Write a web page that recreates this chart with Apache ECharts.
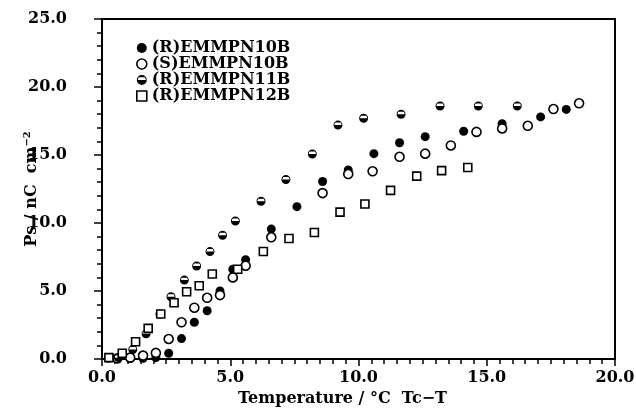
<!DOCTYPE html>
<html>
<head>
<meta charset="utf-8">
<script src="https://cdn.jsdelivr.net/npm/echarts@6/dist/echarts.min.js"></script>
<style>
  html, body { margin: 0; padding: 0; background: #fff; }
  #chart { width: 636px; height: 408px; }
</style>
</head>
<body>
<div id="chart"></div>
<script>
// ---- data ----
const seriesNames = ['(R)EMMPN10B', '(S)EMMPN10B', '(R)EMMPN11B', '(R)EMMPN12B'];

const r10bX = [0.6, 1.1, 1.6, 2.1, 2.6, 3.1, 3.6, 4.1, 4.6, 5.1, 5.6, 6.6, 7.6, 8.6, 9.6, 10.6, 11.6, 12.6, 14.1, 15.6, 17.1, 18.1];
const r10bY = [0.0, 0.05, 0.05, 0.1, 0.42, 1.5, 2.7, 3.55, 5.0, 6.6, 7.3, 9.55, 11.2, 13.05, 13.9, 15.1, 15.9, 16.35, 16.75, 17.3, 17.8, 18.35];

const s10bX = [0.6, 1.1, 1.6, 2.1, 2.6, 3.1, 3.6, 4.1, 4.6, 5.1, 5.6, 6.6, 8.6, 9.6, 10.55, 11.6, 12.6, 13.6, 14.6, 15.6, 16.6, 17.6, 18.6];
const s10bY = [0.05, 0.1, 0.25, 0.45, 1.47, 2.7, 3.77, 4.5, 4.7, 6.0, 6.86, 8.95, 12.2, 13.6, 13.8, 14.87, 15.1, 15.7, 16.7, 16.95, 17.15, 18.38, 18.8];

const r11bX = [0.25, 0.64, 1.2, 1.72, 2.26, 2.69, 3.21, 3.69, 4.21, 4.7, 5.2, 6.2, 7.17, 8.2, 9.2, 10.2, 11.66, 13.18, 14.67, 16.19];
const r11bY = [0.05, 0.1, 0.7, 1.85, 3.3, 4.58, 5.8, 6.84, 7.9, 9.1, 10.15, 11.6, 13.2, 15.07, 17.2, 17.7, 18.0, 18.6, 18.6, 18.6];

const r12bX = [0.27, 0.79, 1.31, 1.8, 2.29, 2.81, 3.3, 3.79, 4.3, 5.29, 6.29, 7.29, 8.28, 9.28, 10.25, 11.25, 12.27, 13.24, 14.26];
const r12bY = [0.1, 0.42, 1.27, 2.25, 3.31, 4.14, 4.95, 5.39, 6.25, 6.6, 7.9, 8.86, 9.3, 10.8, 11.4, 12.4, 13.45, 13.85, 14.08];

const xTickLabels = ['0.0', '5.0', '10.0', '15.0', '20.0'];
const yTickLabels = ['0.0', '5.0', '10.0', '15.0', '20.0', '25.0'];

// ---- helpers ----
function pairs(xs, ys) { return xs.map((x, i) => [x, ys[i]]); }

const FONT = 'DejaVu Serif';
const halfIcon = 'path://M0,-10A10,10 0 1 1 0,10A10,10 0 1 1 0,-10Z M8,0A8,8 0 0 0 5.81,-5.5L-5.81,-5.5A8,8 0 0 0 -8,0Z';
const filledStyle = { color: '#000', opacity: 1 };
const openStyle = { color: '#fff', borderColor: '#000', borderWidth: 1.6, opacity: 1 };
const labelFont = { color: '#000', fontFamily: FONT, fontWeight: 'bold', fontSize: 16 };

const chart = echarts.init(document.getElementById('chart'), null, { renderer: 'canvas' });

chart.setOption({
  animation: false,
  backgroundColor: '#fff',
  grid: {
    left: 102, right: 21, top: 19, bottom: 49,
    containLabel: false, outerBoundsMode: 'none',
    show: true, borderColor: '#000', borderWidth: 2, backgroundColor: 'transparent'
  },
  legend: {
    orient: 'vertical',
    left: 131,
    top: 35,
    itemWidth: 10,
    itemHeight: 10,
    itemGap: 0,
    textStyle: Object.assign({}, labelFont, { lineHeight: 16 }),
    data: [
      { name: seriesNames[0], icon: 'circle', itemStyle: filledStyle },
      { name: seriesNames[1], icon: 'circle', itemStyle: openStyle },
      { name: seriesNames[2], icon: halfIcon, itemStyle: filledStyle },
      { name: seriesNames[3], icon: 'rect', itemStyle: openStyle }
    ]
  },
  xAxis: {
    type: 'value', min: 0, max: 20, interval: 5,
    axisLine: { show: true, onZero: false, lineStyle: { color: '#000', width: 2 } },
    splitLine: { show: false },
    axisTick: { show: true, inside: false, length: 7, lineStyle: { color: '#000', width: 1.5 } },
    minorTick: { show: true, splitNumber: 10, length: 5, lineStyle: { color: '#000', width: 1.5 } },
    axisLabel: Object.assign({}, labelFont, { margin: 11, hideOverlap: false, formatter: (v, i) => xTickLabels[i] }),
    name: 'Temperature / °C  Tc\u2212T',
    nameLocation: 'middle',
    nameGap: 32,
    nameMoveOverlap: false,
    nameTextStyle: Object.assign({}, labelFont, { padding: [0, 32, 0, 0] })
  },
  yAxis: [
    {
      type: 'value', min: 0, max: 25, interval: 5, position: 'left',
      axisLine: { show: true, onZero: false, lineStyle: { color: '#000', width: 2 } },
      splitLine: { show: false },
      axisTick: { show: true, inside: false, length: 8, lineStyle: { color: '#000', width: 1.5 } },
      minorTick: { show: true, splitNumber: 5, length: 5, lineStyle: { color: '#000', width: 1.5 } },
      axisLabel: { show: false },
      name: '{m|Ps / nC  cm}{s|\u22122}',
      nameLocation: 'middle',
      nameRotate: 90,
      nameGap: 62,
      nameMoveOverlap: false,
      nameTextStyle: {
        rich: {
          m: Object.assign({}, labelFont, { verticalAlign: 'bottom' }),
          s: Object.assign({}, labelFont, { fontSize: 10, verticalAlign: 'top', padding: [0, 0, 8, 0] })
        }
      }
    },
    {
      type: 'value', min: 0, max: 25, interval: 5, position: 'left', offset: 15,
      axisLine: { show: false },
      axisTick: { show: false },
      splitLine: { show: false },
      axisLabel: Object.assign({}, labelFont, { margin: 20, hideOverlap: false, formatter: (v, i) => yTickLabels[i] })
    }
  ],
  series: [
    {
      name: seriesNames[0], type: 'scatter', symbol: 'circle', symbolSize: 9,
      itemStyle: filledStyle, yAxisIndex: 0,
      data: pairs(r10bX, r10bY), z: 2
    },
    {
      name: seriesNames[1], type: 'scatter', symbol: 'circle', symbolSize: 9,
      itemStyle: openStyle, yAxisIndex: 0,
      data: pairs(s10bX, s10bY), z: 3
    },
    {
      name: seriesNames[2], type: 'scatter', symbol: halfIcon, symbolSize: 9,
      itemStyle: filledStyle, yAxisIndex: 0,
      data: pairs(r11bX, r11bY), z: 4
    },
    {
      name: seriesNames[3], type: 'scatter', symbol: 'rect', symbolSize: 8,
      itemStyle: openStyle, yAxisIndex: 0,
      data: pairs(r12bX, r12bY), z: 5
    }
  ]
});
</script>
</body>
</html>
